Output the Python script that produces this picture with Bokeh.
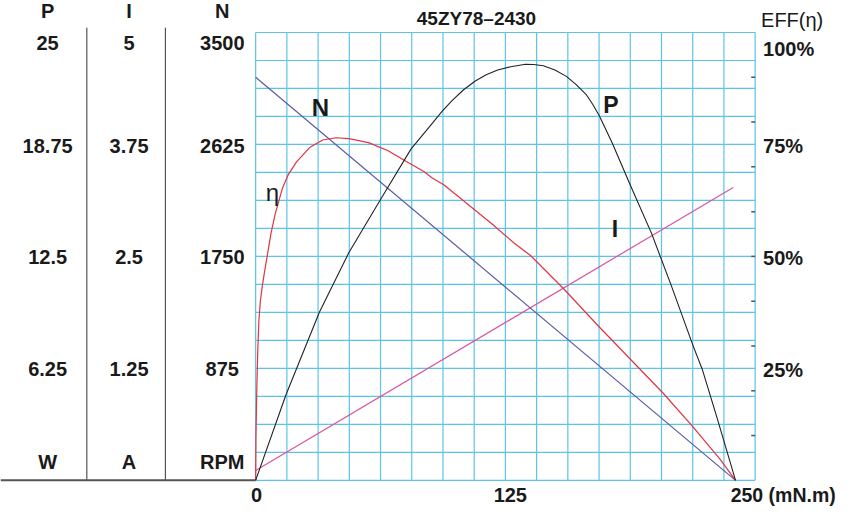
from bokeh.plotting import figure
from bokeh.models import Range1d
from bokeh.core.properties import value
from bokeh.embed import file_html
from bokeh.resources import INLINE

# ---------------- data ----------------
title_text = "45ZY78–2430"

torque_speed = [0, 250]
speed_rpm = [3150, 0]

torque_current = [0, 248.8]
current_a = [0.11, 3.27]

torque_power = [0, 15.8, 33.2, 48.6, 65.6, 80.9, 92.0, 97.1, 102.3, 108.2, 114.2,
                120.1, 126.1, 132.9, 140.6, 144.8, 149.9, 155.9, 161.9, 167.0,
                172.1, 175.5, 178.9, 185.7, 195.1, 206.2, 216.4, 228.0, 232.6,
                240.3, 250]
power_w = [0, 4.78, 9.38, 12.72, 15.78, 18.49, 19.93, 20.60, 21.20, 21.79, 22.28,
           22.64, 22.91, 23.09, 23.23, 23.21, 23.14, 22.91, 22.55, 22.09,
           21.55, 21.01, 20.38, 18.85, 16.50, 13.80, 10.91, 7.48, 6.22,
           3.52, 0]

torque_eff = [0, 0.15, 0.61, 1.12, 1.69, 2.45, 3.43, 4.60, 6.14, 8.03, 10.2, 14.0,
              16.9, 21.3, 28.1, 34.9, 41.8, 48.6, 58.8, 69.0, 77.6, 87.8, 92.0,
              98.0, 122.7, 134.6, 143.2, 160.2, 178.9, 195.1, 212.2, 227.5,
              242.0, 250]
eff_pct = [0, 9.7, 20.6, 29.2, 35.7, 40.0, 43.3, 46.5, 50.4, 55.2, 59.5, 65.3,
           68.2, 71.1, 74.3, 76.0, 76.5, 76.3, 75.4, 73.6, 71.4, 68.9, 67.5,
           66.0, 57.4, 53.0, 50.2, 42.9, 34.3, 27.1, 19.5, 12.1,
           4.7, 0]

power_ticks = [6.25, 12.5, 18.75, 25]
power_labels = ["6.25", "12.5", "18.75", "25"]
current_ticks = [1.25, 2.5, 3.75, 5]
current_labels = ["1.25", "2.5", "3.75", "5"]
speed_ticks = [875, 1750, 2625, 3500]
speed_labels = ["875", "1750", "2625", "3500"]
eff_ticks = [25, 50, 75, 100]
eff_labels = ["25%", "50%", "75%", "100%"]
eff_minor_ticks = [10, 20, 30, 40, 50, 60, 70, 80, 90]
torque_ticks = [0, 125, 250]
torque_labels = ["0", "125", "250 (mN.m)"]
column_heads = ["P", "I", "N"]
column_units = ["W", "A", "RPM"]

T_MAX, E_MAX, N_MAX, P_MAX, I_MAX = 250, 100, 3500, 25, 5

# ---------------- layout (reference-image pixels) ----------------
W, H = 842, 507                # figure size
REF_W, REF_H = 858, 523        # reference image size (layout coordinates)
X_ZERO, X_FULL = 260, 749      # x of torque 0 / 250
Y_ZERO, Y_FULL = 495, 33       # y of 0 / full scale
GRID_RIGHT = 769
N_CELLS = 16
sx = (X_FULL - X_ZERO) / T_MAX
sy = (Y_ZERO - Y_FULL) / E_MAX
kx, ky = W / REF_W, H / REF_H  # screen-offset scaling


def tx(px):
    return (px - X_ZERO) / sx


def ey(py):
    return (Y_ZERO - py) / sy


e0, e1 = ey(REF_H), ey(0)

p = figure(width=W, height=H, output_backend="svg", toolbar_location=None,
           x_range=Range1d(tx(0), tx(REF_W)),
           y_range=Range1d(e0, e1),
           x_axis_location=None, y_axis_location=None,
           min_border=0, tools="")
p.extra_y_ranges = {
    "speed": Range1d(e0 * N_MAX / E_MAX, e1 * N_MAX / E_MAX),
    "power": Range1d(e0 * P_MAX / E_MAX, e1 * P_MAX / E_MAX),
    "current": Range1d(e0 * I_MAX / E_MAX, e1 * I_MAX / E_MAX),
    "py": Range1d(REF_H, 0),
}
p.extra_x_ranges = {"px": Range1d(0, REF_W)}
p.outline_line_color = None
p.background_fill_color = "white"
p.border_fill_color = "white"
for g in p.grid:
    g.visible = False

GRID_COLOR = "#5cc3ea"
FONT = value("Liberation Sans")
TXT = "#1a1a1a"

# grid
gx_end = tx(GRID_RIGHT)
gxs = [gx_end * k / N_CELLS for k in range(N_CELLS + 1)]
gys = [E_MAX * k / N_CELLS for k in range(N_CELLS + 1)]
p.segment(x0=gxs, y0=0, x1=gxs, y1=E_MAX, line_color=GRID_COLOR, line_width=1.2)
p.segment(x0=0, y0=gys, x1=gx_end, y1=gys, line_color=GRID_COLOR, line_width=1.2)

# right efficiency minor ticks
p.segment(x0=tx(GRID_RIGHT - 4), y0=eff_minor_ticks, x1=gx_end, y1=eff_minor_ticks,
          line_color="#555555", line_width=1.5)

# left column separators and base line
p.segment(x0=[88, 168], y0=28, x1=[88, 168], y1=Y_ZERO, x_range_name="px",
          y_range_name="py", line_color="#333333", line_width=1)
p.segment(x0=0, y0=Y_ZERO, x1=X_ZERO, y1=Y_ZERO, x_range_name="px",
          y_range_name="py", line_color="#555555", line_width=2)

# curves
p.line(torque_current, current_a, y_range_name="current", line_color="#d9549e", line_width=1.2)
p.line(torque_speed, speed_rpm, y_range_name="speed", line_color="#5a5aa8", line_width=1.2)
p.line(torque_eff, eff_pct, line_color="#e2333f", line_width=1.2, line_join="round")
p.line(torque_power, power_w, y_range_name="power", line_color="#222222", line_width=1.1,
       line_join="round")


def txt(x, y, text, xr="default", yr="default", size="20px", style="bold",
        align="center", baseline="middle", xo=0, yo=0):
    kw = {}
    if xr != "default":
        kw["x_range_name"] = xr
    if yr != "default":
        kw["y_range_name"] = yr
    if isinstance(yo, list):
        yo = [v * ky for v in yo]
    else:
        yo = yo * ky
    p.text(x=x, y=y, text=text, text_font=FONT, text_font_size=size,
           text_font_style=style, text_align=align, text_baseline=baseline,
           text_color=TXT, x_offset=xo * kx, y_offset=yo, **kw)


# left value columns
row_off = [1, 1, 1.5, 11]
txt([48] * 4, power_ticks, power_labels, xr="px", yr="power", yo=row_off)
txt([131] * 4, current_ticks, current_labels, xr="px", yr="current", yo=row_off)
txt([226] * 4, speed_ticks, speed_labels, xr="px", yr="speed", yo=row_off)
txt([48, 131, 226], [11, 11, 11], column_heads, xr="px", yr="py")
txt([48, 131, 226], [476, 476, 476], column_units, xr="px", yr="py")

# right efficiency labels
txt([777] * 4, eff_ticks, eff_labels, xr="px", align="left", yo=[1.5, 2, 1.5, 17])
txt([775], [20], ["EFF(η)"], xr="px", yr="py", align="left", style="normal")

# title
txt([485], [19], [title_text], xr="px", yr="py", size="19px")

# bottom torque labels
txt([torque_ticks[0]], [510], [torque_labels[0]], yr="py", xo=1)
txt([torque_ticks[1]], [510], [torque_labels[1]], yr="py", xo=15)
txt([torque_ticks[2]], [510], [torque_labels[2]], yr="py", align="left", xo=-5,
    size="19.5px")

# curve names
txt([326], [110], ["N"], xr="px", yr="py", size="24px")
txt([622], [108], ["P"], xr="px", yr="py", size="23px")
txt([626], [236], ["I"], xr="px", yr="py", size="23px")
txt([277], [198], ["η"], xr="px", yr="py", size="24px", style="normal", baseline="alphabetic")

open("out.html", "w").write(file_html(p, INLINE))
